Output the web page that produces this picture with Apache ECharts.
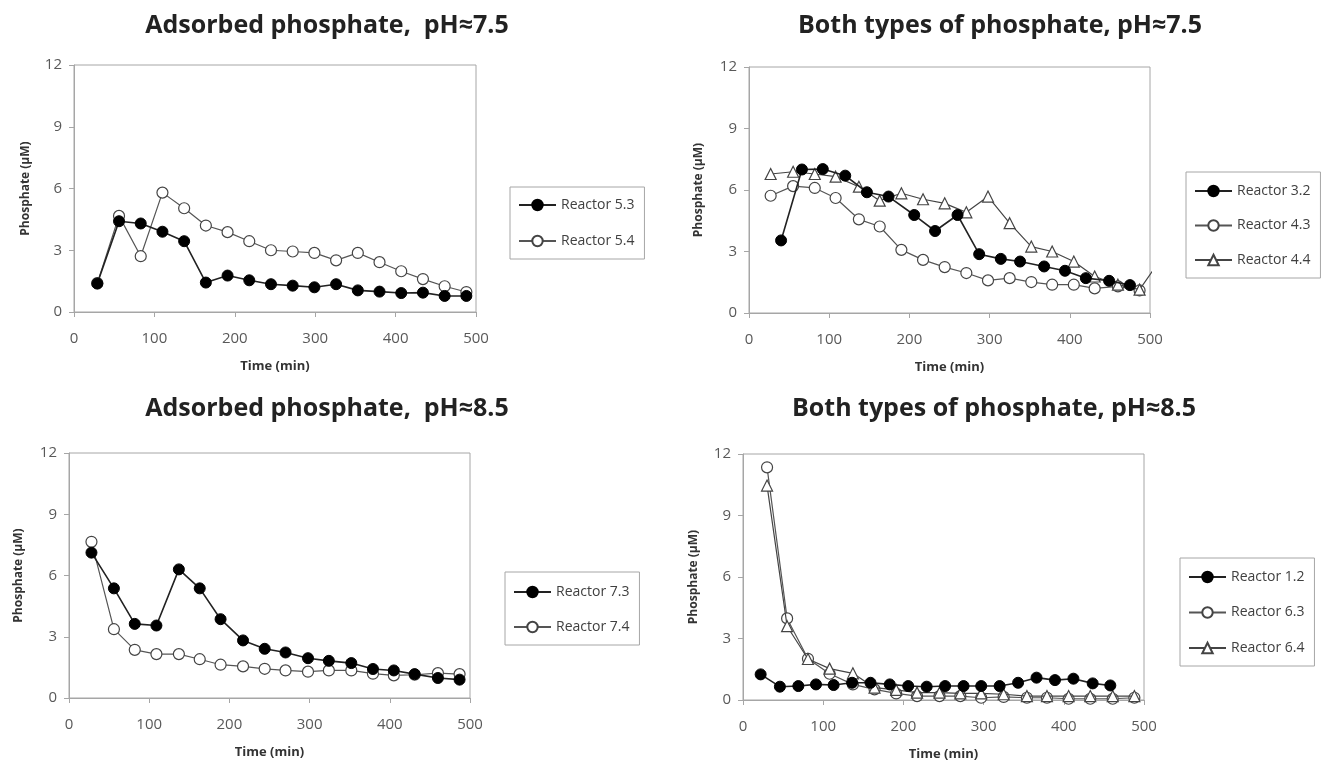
<!DOCTYPE html>
<html>
<head>
<meta charset="utf-8">
<script src="https://cdn.jsdelivr.net/npm/echarts@6/dist/echarts.min.js"></script>
<style>html,body{margin:0;padding:0;background:#fff}#c{width:1336px;height:764px}</style>
</head>
<body>
<div id="c"></div>
<script>
// ---- Data ----
const titles = ['Adsorbed phosphate,  pH\u22487.5', 'Both types of phosphate, pH\u22487.5',
                'Adsorbed phosphate,  pH\u22488.5', 'Both types of phosphate, pH\u22488.5'];
const xTicks = [0, 100, 200, 300, 400, 500];
const yTicks = [0, 3, 6, 9, 12];

// Panel 1: adsorbed, pH 7.5
const t1 = [29, 56, 83, 110, 137, 164, 191, 218, 245, 272, 299, 326, 353, 380, 407, 434, 461, 488];
const r53 = [1.38, 4.41, 4.30, 3.90, 3.44, 1.43, 1.77, 1.54, 1.35, 1.28, 1.20, 1.35, 1.05, 0.99, 0.92, 0.94, 0.78, 0.78];
const r54 = [1.40, 4.67, 2.71, 5.80, 5.04, 4.20, 3.88, 3.44, 3.00, 2.94, 2.87, 2.51, 2.87, 2.42, 1.98, 1.60, 1.25, 0.97];

// Panel 2: both types, pH 7.5
const t32 = [40, 66, 92, 120, 147, 174, 206, 232, 260, 287, 314, 338, 368, 394, 420, 449, 475];
const r32 = [3.54, 7.00, 7.02, 6.70, 5.89, 5.68, 4.78, 4.00, 4.78, 2.87, 2.64, 2.51, 2.27, 2.06, 1.70, 1.57, 1.36];
const t2 = [27, 55, 82, 108, 137, 163, 190, 217, 244, 271, 298, 325, 352, 378, 405, 431, 460, 487];
const r43 = [5.72, 6.19, 6.10, 5.61, 4.57, 4.22, 3.08, 2.59, 2.24, 1.95, 1.59, 1.70, 1.51, 1.38, 1.38, 1.20, 1.30, 1.10];
const t44 = [27, 55, 82, 108, 137, 163, 190, 217, 244, 271, 298, 325, 352, 378, 405, 431, 460, 487, 513];
const r44 = [6.78, 6.89, 6.78, 6.65, 6.16, 5.48, 5.84, 5.55, 5.35, 4.91, 5.68, 4.38, 3.24, 3.00, 2.51, 1.78, 1.38, 1.14, 2.60];

// Panel 3: adsorbed, pH 8.5
const t3 = [28, 56, 82, 109, 137, 163, 189, 217, 244, 270, 298, 324, 352, 379, 405, 431, 460, 487];
const r73 = [7.12, 5.37, 3.63, 3.55, 6.30, 5.37, 3.86, 2.82, 2.41, 2.23, 1.95, 1.82, 1.71, 1.42, 1.35, 1.17, 0.98, 0.90];
const r74 = [7.65, 3.37, 2.36, 2.15, 2.15, 1.90, 1.63, 1.55, 1.43, 1.35, 1.29, 1.35, 1.35, 1.19, 1.11, 1.14, 1.22, 1.17];

// Panel 4: both types, pH 8.5
const t12 = [22, 46, 69, 91, 113, 136, 159, 183, 206, 229, 252, 275, 297, 320, 343, 366, 389, 412, 436, 458];
const r12 = [1.25, 0.65, 0.68, 0.76, 0.73, 0.84, 0.84, 0.76, 0.68, 0.65, 0.68, 0.68, 0.68, 0.68, 0.84, 1.09, 0.97, 1.04, 0.81, 0.71];
const t4 = [30, 55, 81, 108, 137, 164, 191, 217, 245, 271, 297, 325, 354, 379, 406, 433, 461, 488];
const r63 = [11.35, 3.98, 2.01, 1.28, 0.76, 0.52, 0.32, 0.19, 0.19, 0.19, 0.11, 0.15, 0.11, 0.11, 0.06, 0.06, 0.06, 0.11];
const r64 = [10.46, 3.60, 2.00, 1.53, 1.30, 0.60, 0.49, 0.36, 0.36, 0.32, 0.32, 0.28, 0.19, 0.19, 0.19, 0.19, 0.19, 0.19];

// ---- Layout ----
const grids = [
  {left: 74, top: 65, width: 402, height: 247},
  {left: 749, top: 67, width: 401, height: 246},
  {left: 69, top: 453, width: 401, height: 245},
  {left: 743, top: 454, width: 401, height: 246}
];
const titlePos = [{x: 327, y: 13}, {x: 1000, y: 13}, {x: 327, y: 396}, {x: 994, y: 396}];
const legendPos = [
  {left: 510, top: 187, gap: 22, pad: [11, 10, 11, 8]},
  {left: 1186, top: 172, gap: 20.5, pad: [12, 10, 11, 8]},
  {left: 505, top: 572, gap: 21, pad: [13, 10, 11, 8]},
  {left: 1180, top: 558, gap: 21.5, pad: [12, 10, 11, 8]}
];
const yNameGap = [42, 44, 44, 43];

const pair = (t, v) => t.map((x, i) => [x, v[i]]);
const FONT = 'Open Sans';
const axisColor = '#a6a6a6';

const filled = (name, idx, data) => ({
  name, type: 'line', xAxisIndex: idx, yAxisIndex: idx, data,
  symbol: 'circle', symbolSize: 11, z: 5,
  lineStyle: {color: '#222', width: 1.6},
  itemStyle: {color: '#000', borderColor: '#000', borderWidth: 1},
  emphasis: {disabled: true}, animation: false
});
const openC = (name, idx, data) => ({
  name, type: 'line', xAxisIndex: idx, yAxisIndex: idx, data,
  symbol: 'circle', symbolSize: 11, z: 3,
  lineStyle: {color: '#555', width: 1.2},
  itemStyle: {color: '#fff', borderColor: '#444', borderWidth: 1.2},
  emphasis: {disabled: true}, animation: false
});
const tri = (name, idx, data) => ({
  name, type: 'line', xAxisIndex: idx, yAxisIndex: idx, data,
  symbol: 'triangle', symbolSize: 11, z: 4,
  lineStyle: {color: '#444', width: 1.2},
  itemStyle: {color: '#fff', borderColor: '#444', borderWidth: 1.2},
  emphasis: {disabled: true}, animation: false
});

const series = [
  filled('Reactor 5.3', 0, pair(t1, r53)),
  openC('Reactor 5.4', 0, pair(t1, r54)),
  filled('Reactor 3.2', 1, pair(t32, r32)),
  openC('Reactor 4.3', 1, pair(t2, r43)),
  tri('Reactor 4.4', 1, pair(t44, r44)),
  filled('Reactor 7.3', 2, pair(t3, r73)),
  openC('Reactor 7.4', 2, pair(t3, r74)),
  filled('Reactor 1.2', 3, pair(t12, r12)),
  openC('Reactor 6.3', 3, pair(t4, r63)),
  tri('Reactor 6.4', 3, pair(t4, r64))
];
const legendNames = [
  ['Reactor 5.3', 'Reactor 5.4'],
  ['Reactor 3.2', 'Reactor 4.3', 'Reactor 4.4'],
  ['Reactor 7.3', 'Reactor 7.4'],
  ['Reactor 1.2', 'Reactor 6.3', 'Reactor 6.4']
];

const option = {
  backgroundColor: '#fff',
  animation: false,
  textStyle: {fontFamily: FONT},
  title: titles.map((t, i) => ({
    text: t, left: titlePos[i].x, top: titlePos[i].y, textAlign: 'center', padding: 0,
    textStyle: {fontFamily: FONT, fontWeight: 'bold', fontSize: 25, color: '#222'}
  })),
  grid: grids.map(g => Object.assign({show: true, borderColor: axisColor, borderWidth: 1, backgroundColor: 'transparent', containLabel: false}, g)),
  legend: legendNames.map((names, i) => ({
    data: names, orient: 'vertical', left: legendPos[i].left, top: legendPos[i].top,
    itemGap: legendPos[i].gap, padding: legendPos[i].pad, itemWidth: 37, itemHeight: 13,
    borderColor: '#a6a6a6', borderWidth: 1, selectedMode: false,
    textStyle: {fontFamily: FONT, fontSize: 14, color: '#404040'}
  })),
  xAxis: grids.map((g, i) => ({
    type: 'value', gridIndex: i, min: xTicks[0], max: xTicks[xTicks.length - 1], interval: 100,
    name: 'Time (min)', nameLocation: 'middle', nameGap: 48,
    nameTextStyle: {fontFamily: FONT, fontWeight: 'bold', fontSize: 13, color: '#333'},
    axisLine: {show: true, lineStyle: {color: axisColor}},
    axisTick: {show: true, inside: false, length: 5, lineStyle: {color: axisColor}},
    axisLabel: {margin: 19, fontSize: 15, color: '#595959', fontFamily: FONT},
    splitLine: {show: false}
  })),
  yAxis: grids.map((g, i) => ({
    type: 'value', gridIndex: i, min: yTicks[0], max: yTicks[yTicks.length - 1], interval: 3,
    name: 'Phosphate (\u03bcM)', nameLocation: 'middle', nameGap: yNameGap[i], nameRotate: 90,
    nameTextStyle: {fontFamily: FONT, fontWeight: 'bold', fontSize: 12, color: '#333'},
    axisLine: {show: true, lineStyle: {color: axisColor}},
    axisTick: {show: true, inside: false, length: 5, lineStyle: {color: axisColor}},
    axisLabel: {margin: 12, fontSize: 15, color: '#595959', fontFamily: FONT},
    splitLine: {show: false}
  })),
  series: series
};

const chart = echarts.init(document.getElementById('c'), null, {renderer: 'canvas'});
chart.setOption(option);
</script>
</body>
</html>
